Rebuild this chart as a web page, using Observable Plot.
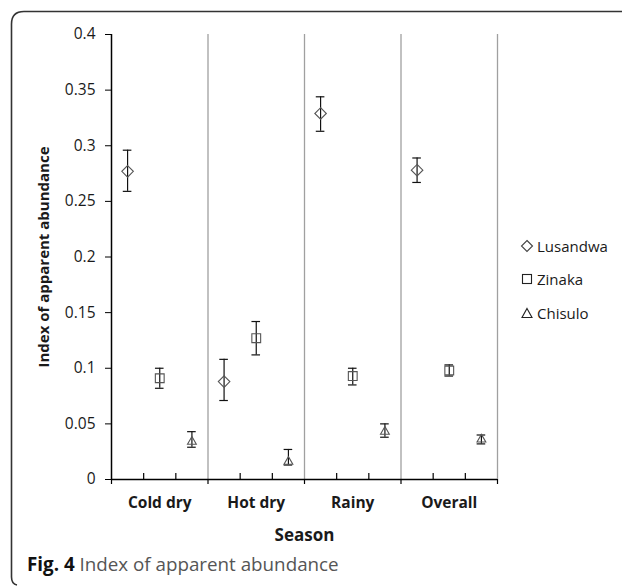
<!DOCTYPE html>
<html>
<head>
<meta charset="utf-8">
<script src="https://cdn.jsdelivr.net/npm/d3@7"></script>
<script src="https://cdn.jsdelivr.net/npm/@observablehq/plot@0.6"></script>
<style>
  html, body { margin: 0; padding: 0; background: #fff; }
  #wrap { position: relative; width: 622px; height: 586px; overflow: hidden; font-family: "Open Sans", sans-serif; }
  #chart { position: absolute; left: 0; top: 0; }
  #frame { position: absolute; left: 0; top: 0; }
  #legend { position: absolute; left: 520px; top: 229px; font-size: 15px; color: #1a1a1a; }
  #legend .row { display: flex; align-items: center; height: 33.5px; }
  #legend svg { margin-right: 3px; }
  #caption { position: absolute; left: 27px; top: 551px; font-size: 18.8px; color: #555; white-space: nowrap; }
  #caption b { color: #111; }
</style>
</head>
<body>
<div id="wrap">
  <div id="chart"></div>
  <div id="legend"></div>
  <div id="caption"><b>Fig. 4</b> Index of apparent abundance</div>
  <svg id="frame" width="622" height="586">
    <path d="M622,11.5 H24 Q11.5,11.5 11.5,24 V577 Q11.5,584 17,585" fill="none" stroke="#333" stroke-width="1.6"/>
  </svg>
</div>
<script>
const seasons = ["Cold dry", "Hot dry", "Rainy", "Overall"];
const species = ["Lusandwa", "Zinaka", "Chisulo"];

const lusandwaMean = [0.277, 0.088, 0.329, 0.278];
const lusandwaLow  = [0.259, 0.071, 0.313, 0.267];
const lusandwaHigh = [0.296, 0.108, 0.344, 0.289];

const zinakaMean = [0.091, 0.127, 0.093, 0.098];
const zinakaLow  = [0.082, 0.112, 0.085, 0.093];
const zinakaHigh = [0.100, 0.142, 0.100, 0.103];

const chisuloMean = [0.034, 0.016, 0.043, 0.036];
const chisuloLow  = [0.029, 0.013, 0.038, 0.032];
const chisuloHigh = [0.043, 0.027, 0.050, 0.040];

const yTicks = [0, 0.05, 0.1, 0.15, 0.2, 0.25, 0.3, 0.35, 0.4];

const series = [
  {name: species[0], mean: lusandwaMean, low: lusandwaLow, high: lusandwaHigh},
  {name: species[1], mean: zinakaMean, low: zinakaLow, high: zinakaHigh},
  {name: species[2], mean: chisuloMean, low: chisuloLow, high: chisuloHigh}
];
const nSp = species.length;
const rows = [];
seasons.forEach((s, si) => {
  series.forEach((sp, k) => {
    rows.push({season: s, species: sp.name, pos: si * nSp + k + 0.5, mean: sp.mean[si], low: sp.low[si], high: sp.high[si]});
  });
});
const xMax = seasons.length * nSp;
const centers = seasons.map((s, i) => i * nSp + nSp / 2);
const boundaries = d3.range(0, xMax + 1, nSp);
const minor = d3.range(0, xMax + 1).filter(v => v % nSp !== 0);
const centerLabel = new Map(centers.map((c, i) => [c, seasons[i]]));

const W = 622, H = 545, mT = 34, mB = 66, mL = 111, mR = 125;
const yPerPx = 0.4 / (H - mT - mB);
const xPerPx = xMax / (W - mL - mR);
const capHalf = 4.3 * xPerPx;
const minorLen = 6 * yPerPx;

const symbols = {Lusandwa: ["diamond2", 5.2], Zinaka: ["square2", 5.6], Chisulo: ["triangle2", 4.2]};
const mkStroke = "#555";

const plot = Plot.plot({
  width: W, height: H,
  marginTop: mT, marginBottom: mB, marginLeft: mL, marginRight: mR,
  style: {fontFamily: "Open Sans, sans-serif", color: "#1a1a1a", background: "transparent"},
  x: {domain: [0, xMax]},
  y: {domain: [0, 0.4]},
  marks: [
    Plot.ruleX(boundaries.slice(1), {stroke: "#a0a0a0", strokeWidth: 1.3}),
    Plot.axisY(yTicks, {
      tickSize: 6, tickPadding: 10, fontSize: 15.5, stroke: "#000",
      tickFormat: d => d3.format("~g")(d),
      label: "Index of apparent abundance", labelAnchor: "center", labelArrow: "none",
      labelOffset: 73
    }),
    Plot.axisX(centers, {
      tickSize: 0, tickPadding: 17, fontSize: 15.5, fontWeight: "bold",
      tickFormat: d => centerLabel.get(d),
      label: "Season", labelAnchor: "center", labelArrow: "none", labelOffset: 61
    }),
    Plot.axisX(boundaries, {tickSize: 5, text: null, label: null, stroke: "#000", strokeWidth: 1.2}),
    Plot.ruleX(minor, {y1: 0, y2: minorLen, stroke: "#000", strokeWidth: 1.2}),
    Plot.ruleY([0], {stroke: "#000", strokeWidth: 1.5}),
    Plot.ruleX([0], {stroke: "#000", strokeWidth: 1.5}),
    Plot.ruleX(rows, {x: "pos", y1: "low", y2: "high", stroke: "#111", strokeWidth: 1.2}),
    Plot.ruleY(rows, {y: "high", x1: d => d.pos - capHalf, x2: d => d.pos + capHalf, stroke: "#111", strokeWidth: 1.2}),
    Plot.ruleY(rows, {y: "low", x1: d => d.pos - capHalf, x2: d => d.pos + capHalf, stroke: "#111", strokeWidth: 1.2}),
    ...species.map(sp => Plot.dot(rows.filter(d => d.species === sp), {
      x: "pos", y: "mean", symbol: () => symbols[sp][0], r: symbols[sp][1],
      stroke: mkStroke, strokeWidth: 1.1, fill: "none"
    }))
  ]
});
plot.querySelectorAll('[aria-label="y-axis label"] text, [aria-label="x-axis label"] text').forEach(t => {
  t.setAttribute("font-weight", "bold");
});
plot.querySelectorAll('[aria-label="y-axis label"] text').forEach(t => t.setAttribute("font-size", "15"));
plot.querySelectorAll('[aria-label="x-axis label"] text').forEach(t => t.setAttribute("font-size", "17"));
document.getElementById("chart").appendChild(plot);

// legend
const legend = document.getElementById("legend");
const legendShapes = {
  Lusandwa: '<path d="M7,1.5 L12.5,7 L7,12.5 L1.5,7 Z" fill="none" stroke="#444" stroke-width="1.1"/>',
  Zinaka: '<rect x="2.5" y="2.5" width="9" height="9" fill="none" stroke="#222" stroke-width="1.1"/>',
  Chisulo: '<path d="M7,2.5 L12,11.5 L2,11.5 Z" fill="none" stroke="#222" stroke-width="1.1"/>'
};
species.forEach(sp => {
  const row = document.createElement("div");
  row.className = "row";
  row.innerHTML = `<svg width="14" height="14">${legendShapes[sp]}</svg><span>${sp}</span>`;
  legend.appendChild(row);
});
</script>
</body>
</html>
